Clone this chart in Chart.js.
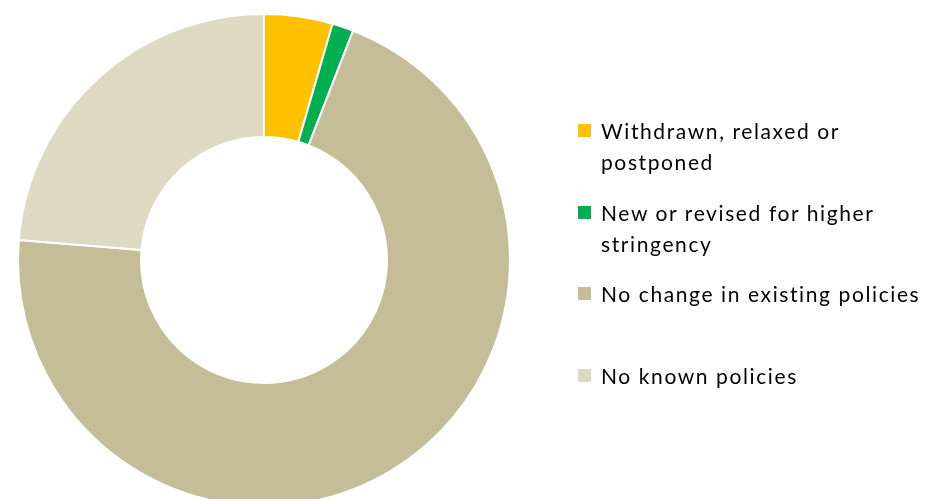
<!DOCTYPE html>
<html>
<head>
<meta charset="utf-8">
<script src="https://cdn.jsdelivr.net/npm/chart.js@4/dist/chart.umd.min.js"></script>
<style>
  html, body { margin: 0; padding: 0; background: #fff; overflow: hidden; }
  #wrap { position: relative; width: 928px; height: 499px; overflow: hidden; }
  #box { position: absolute; left: 0; top: 0; width: 928px; height: 520px; }
  #legend { position: absolute; left: 578px; top: 115px; font-family: Lato, "Open Sans", sans-serif; font-size: 21px; letter-spacing: 1.6px; color: #000; }
  .item { height: 81.5px; display: flex; align-items: flex-start; }
  .sw { width: 13px; height: 13px; margin-top: 9px; margin-right: 10px; flex: none; }
  .txt { line-height: 31px; width: 340px; white-space: nowrap; }
</style>
</head>
<body>
<div id="wrap">
  <div id="box"><canvas id="donut"></canvas></div>
  <div id="legend"></div>
</div>
<script>
  const labels = [
    ['Withdrawn, relaxed or', 'postponed'],
    ['New or revised for higher', 'stringency'],
    ['No change in existing policies'],
    ['No known policies']
  ];
  const values = [4.5, 1.4, 70.4, 23.7];
  const colors = ['#FFC000', '#00B050', '#C4BD97', '#DDD9C3'];

  new Chart(document.getElementById('donut'), {
    type: 'doughnut',
    data: {
      labels: labels.map(l => l.join(' ')),
      datasets: [{
        data: values,
        backgroundColor: colors,
        borderColor: '#ffffff',
        borderWidth: 2
      }]
    },
    options: {
      responsive: true,
      maintainAspectRatio: false,
      animation: false,
      cutout: '50%',
      layout: { padding: { left: 17, top: 13, right: 417, bottom: 13 } },
      plugins: {
        legend: { display: false },
        tooltip: { enabled: false }
      }
    }
  });

  const legend = document.getElementById('legend');
  labels.forEach((l, i) => {
    const item = document.createElement('div');
    item.className = 'item';
    const sw = document.createElement('div');
    sw.className = 'sw';
    sw.style.background = colors[i];
    const txt = document.createElement('div');
    txt.className = 'txt';
    l.forEach((line, j) => {
      if (j) txt.appendChild(document.createElement('br'));
      txt.appendChild(document.createTextNode(line));
    });
    item.append(sw, txt);
    legend.appendChild(item);
  });
</script>
</body>
</html>
